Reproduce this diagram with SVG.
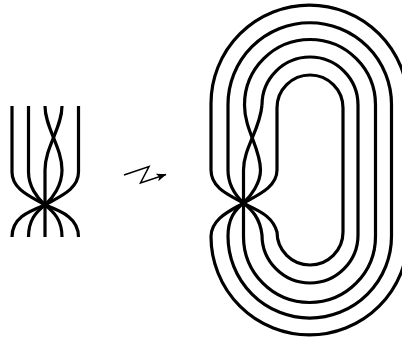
<svg xmlns="http://www.w3.org/2000/svg" width="402" height="339" viewBox="0 0 402 339">
<style>.s{fill:none;stroke:#000;stroke-width:3.2}</style>
<defs><marker id="a" viewBox="0 0 10 8" refX="9.5" refY="4" markerWidth="10" markerHeight="8" markerUnits="userSpaceOnUse" orient="auto"><path d="M0 0L10 4L0 8L2.5 4Z"/></marker></defs>
<rect width="402" height="339" fill="#fff"/>
<g id="left-braid">
<path class="s" d="M12 106V172C12 190 32 197 45 205C30 211 12 217 12 237"/>
<path class="s" d="M28.500 106V172C28.500 186 37 198 45 205C36 212 28.500 220 28.500 237"/>
<path class="s" d="M45 106C45 128 62 147 62 170C62 185 53 198 45 205"/>
<path class="s" d="M62 106C62 128 45 147 45 170V237"/>
<path class="s" d="M78.500 106V172C78.500 190 58 197 45 205C60 211 78.500 217 78.500 237"/>
<path class="s" d="M45 205C54 212 62 220 62 237"/>
</g>
<g id="right-braid">
<path class="s" d="M211 103.500V170C211 188 229 195 243.500 203C232 210 211 218 211 236.500A98.500 98.500 0 0 0 408 236.500V103.500A98.500 98.500 0 0 0 211 103.500Z"/>
<path class="s" d="M228 104.500V170C228 185 236 196 243.500 203C235 210 228 218 228 236.300A81.750 81.750 0 0 0 391.500 236.300V104.500A81.750 81.750 0 0 0 228 104.500Z"/>
<path class="s" d="M244.500 105C244.500 130 260.500 148 260.500 170C260.500 183 251 196 243.500 203"/>
<path class="s" d="M262 105C260 130 243.500 148 243.500 170V236.500A65.500 65.500 0 0 0 375.500 236.500V105A65.500 65.500 0 0 0 244.500 105"/>
<path class="s" d="M243.500 203C252 210 260 218 262 235A48 48 0 0 0 358 235V105A48 48 0 0 0 262 105"/>
<path class="s" d="M277 170V108A33 33 0 0 1 343 108V232A33 33 0 0 1 277 232C272 214 255 210 243.500 203C258 195 277 187 277 170"/>
</g>
<g id="connectors">
<path fill="none" stroke="#000" stroke-width="1.500" marker-end="url(#a)" d="M124 175L149 166.500L140.500 183L166 174.500"/>
</g>
</svg>
